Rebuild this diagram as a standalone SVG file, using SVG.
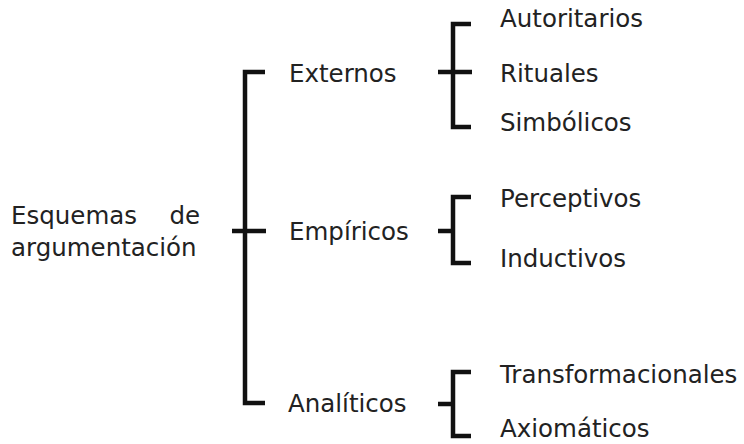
<svg xmlns="http://www.w3.org/2000/svg" width="744" height="444" viewBox="0 0 744 444">
<style>
text{font-family:"DejaVu Sans","Verdana",sans-serif;font-size:24.5px;fill:#222}
.br{fill:none;stroke:#111;stroke-width:4.5;stroke-linecap:butt;stroke-linejoin:miter}
</style>
<rect width="744" height="444" fill="#fff"/>
<g id="connectors">
<path class="br" d="M265,72 H245 V403 H265 M232,231 H266"/>
<path class="br" d="M471,24 H453 V127 H471 M438,72 H472"/>
<path class="br" d="M471,197 H453 V263 H471 M438,231 H453"/>
<path class="br" d="M471,372 H453 V436 H471 M438,404 H453"/>
</g>
<g id="root"><text x="11" y="224">Esquemas</text><text x="200" y="224" text-anchor="end">de</text><text x="11" y="256">argumentación</text></g>
<g id="externos"><text x="289" y="82">Externos</text></g>
<g id="empiricos"><text x="289" y="240">Empíricos</text></g>
<g id="analiticos"><text x="288" y="412">Analíticos</text></g>
<g id="autoritarios"><text x="500" y="27">Autoritarios</text></g>
<g id="rituales"><text x="500" y="82">Rituales</text></g>
<g id="simbolicos"><text x="500" y="131">Simbólicos</text></g>
<g id="perceptivos"><text x="500" y="207">Perceptivos</text></g>
<g id="inductivos"><text x="500" y="267">Inductivos</text></g>
<g id="transformacionales"><text x="500" y="383">Transformacionales</text></g>
<g id="axiomaticos"><text x="500" y="437">Axiomáticos</text></g>
</svg>
